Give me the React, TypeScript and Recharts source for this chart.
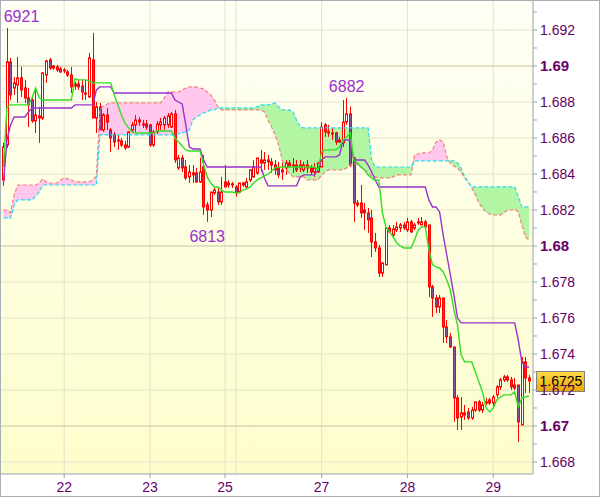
import React from "react";
import {
  ComposedChart,
  XAxis,
  YAxis,
  CartesianGrid,
  Area,
  Bar,
  Line,
  ReferenceLine,
  ReferenceDot,
} from "recharts";

// hourly candles
const openPrice = [
  1.68367, 1.68561, 1.69023, 1.68878, 1.68895, 1.68934, 1.68878, 1.68823, 1.68811, 1.68695,
  1.68711, 1.68711, 1.6895, 1.69034, 1.68989, 1.68995, 1.68984, 1.68973, 1.68967, 1.6895,
  1.68889, 1.689, 1.68889, 1.6885, 1.68828, 1.69034, 1.68711, 1.68773, 1.68645, 1.68728,
  1.68645, 1.68617, 1.68589, 1.68584, 1.68561, 1.6855, 1.68645, 1.68673, 1.68689, 1.68678,
  1.68678, 1.68673, 1.68561, 1.68634, 1.68673, 1.68673, 1.68673, 1.68661, 1.68734, 1.68434,
  1.68489, 1.68439, 1.68384, 1.68406, 1.68406, 1.68356, 1.68439, 1.68228, 1.682, 1.68295,
  1.683, 1.68245, 1.68356, 1.68339, 1.68345, 1.68328, 1.683, 1.68339, 1.68328, 1.68367,
  1.68384, 1.68406, 1.68478, 1.68461, 1.68467, 1.68467, 1.6845, 1.68434, 1.68411, 1.68434,
  1.68461, 1.68445, 1.6845, 1.68434, 1.68423, 1.6845, 1.68434, 1.68411, 1.68411, 1.68439,
  1.68673, 1.68634, 1.68628, 1.68628, 1.68589, 1.68573, 1.68689, 1.68734, 1.68489, 1.68239,
  1.68239, 1.682, 1.68184, 1.68156, 1.68023, 1.67989, 1.6785, 1.67895, 1.681, 1.68061,
  1.68089, 1.681, 1.68117, 1.68089, 1.68134, 1.681, 1.68128, 1.68117, 1.68134, 1.68117,
  1.67773, 1.67711, 1.67661, 1.67711, 1.6755, 1.67495, 1.67439, 1.67156, 1.6705, 1.67061,
  1.67078, 1.67045, 1.67089, 1.67134, 1.67089, 1.67128, 1.67145, 1.67128, 1.67173, 1.67217,
  1.67256, 1.67273, 1.67256, 1.67228, 1.67228, 1.67006, 1.67356, 1.67267,
];

const highPrice = [
  1.68573, 1.69211, 1.69045, 1.68939, 1.6905, 1.68995, 1.68923, 1.68878, 1.68828, 1.68878,
  1.68773, 1.68967, 1.69034, 1.69045, 1.69006, 1.69006, 1.68995, 1.68989, 1.68978, 1.68995,
  1.68911, 1.68923, 1.68923, 1.68923, 1.69073, 1.69184, 1.688, 1.68795, 1.68739, 1.68767,
  1.68656, 1.68634, 1.68617, 1.686, 1.68584, 1.68639, 1.68689, 1.68728, 1.68717, 1.687,
  1.687, 1.68678, 1.68645, 1.68695, 1.68711, 1.68723, 1.68739, 1.68745, 1.68756, 1.68506,
  1.68506, 1.68478, 1.6845, 1.6845, 1.68434, 1.68489, 1.68506, 1.68245, 1.683, 1.68323,
  1.68328, 1.68384, 1.6845, 1.68367, 1.68356, 1.68339, 1.6835, 1.68356, 1.68378, 1.68423,
  1.68478, 1.68489, 1.68534, 1.68523, 1.68506, 1.68489, 1.68478, 1.68467, 1.68461, 1.68478,
  1.68478, 1.68489, 1.68478, 1.68478, 1.68467, 1.68478, 1.6845, 1.68461, 1.68467, 1.68689,
  1.68684, 1.68673, 1.68656, 1.68634, 1.68606, 1.68811, 1.68823, 1.68773, 1.68495, 1.68256,
  1.68339, 1.68239, 1.68211, 1.682, 1.68073, 1.68006, 1.67906, 1.68106, 1.68117, 1.68117,
  1.68134, 1.68128, 1.68134, 1.68156, 1.68145, 1.68128, 1.68156, 1.68161, 1.68145, 1.68117,
  1.67784, 1.67728, 1.67728, 1.67711, 1.67589, 1.67517, 1.67439, 1.67173, 1.67161, 1.67117,
  1.671, 1.67106, 1.67134, 1.67145, 1.67134, 1.67156, 1.67156, 1.67173, 1.67228, 1.67267,
  1.67284, 1.67284, 1.67273, 1.67267, 1.67228, 1.67384, 1.67384, 1.67284,
];

const lowPrice = [
  1.68334, 1.68545, 1.68811, 1.68839, 1.68795, 1.68828, 1.68795, 1.68661, 1.68684, 1.68628,
  1.68573, 1.687, 1.68906, 1.68978, 1.68978, 1.68967, 1.68961, 1.68961, 1.68939, 1.6885,
  1.68867, 1.68867, 1.68811, 1.68811, 1.68823, 1.68711, 1.68628, 1.68645, 1.68634, 1.68645,
  1.68523, 1.6855, 1.68534, 1.6855, 1.68534, 1.68545, 1.68628, 1.68634, 1.68667, 1.68656,
  1.68645, 1.6855, 1.6855, 1.68623, 1.68645, 1.68645, 1.68656, 1.68656, 1.68461, 1.68423,
  1.68411, 1.68367, 1.6835, 1.6835, 1.6835, 1.6835, 1.68173, 1.68134, 1.68161, 1.68284,
  1.68228, 1.68228, 1.68328, 1.68323, 1.68323, 1.68273, 1.68295, 1.68328, 1.68323, 1.68356,
  1.68378, 1.68395, 1.68411, 1.68423, 1.68423, 1.68406, 1.68395, 1.68378, 1.68367, 1.68395,
  1.68434, 1.68406, 1.68411, 1.68411, 1.68411, 1.68406, 1.68395, 1.68384, 1.68406, 1.68439,
  1.68606, 1.68606, 1.68589, 1.68561, 1.68573, 1.6855, 1.68673, 1.68439, 1.68134, 1.68217,
  1.68156, 1.68089, 1.68073, 1.67939, 1.67967, 1.67828, 1.67828, 1.67895, 1.68078, 1.6805,
  1.68078, 1.68078, 1.68089, 1.68078, 1.68073, 1.68089, 1.68117, 1.68117, 1.681, 1.67717,
  1.67606, 1.67628, 1.67628, 1.67461, 1.67461, 1.67434, 1.67023, 1.66978, 1.66978, 1.67034,
  1.67034, 1.67034, 1.67078, 1.67078, 1.67073, 1.67117, 1.67117, 1.67106, 1.67156, 1.672,
  1.67245, 1.67245, 1.672, 1.672, 1.66911, 1.67006, 1.67184, 1.67184,
];

const closePrice = [
  1.6855, 1.69023, 1.68839, 1.68906, 1.68934, 1.68867, 1.68823, 1.68784, 1.68695, 1.68728,
  1.68723, 1.68961, 1.69028, 1.68989, 1.69, 1.68978, 1.68967, 1.68978, 1.6895, 1.68884,
  1.689, 1.68884, 1.68856, 1.68845, 1.69045, 1.68711, 1.68773, 1.68645, 1.68728, 1.68689,
  1.686, 1.68578, 1.68584, 1.68561, 1.68545, 1.68634, 1.68673, 1.687, 1.687, 1.68673,
  1.68661, 1.68561, 1.68634, 1.68678, 1.68689, 1.68711, 1.68723, 1.68734, 1.68478, 1.68489,
  1.68434, 1.68378, 1.68411, 1.68395, 1.68356, 1.68411, 1.68217, 1.682, 1.683, 1.68311,
  1.68245, 1.683, 1.68328, 1.6835, 1.68339, 1.68295, 1.6835, 1.6835, 1.68356, 1.68423,
  1.68439, 1.68489, 1.68461, 1.68478, 1.68478, 1.6845, 1.68423, 1.68395, 1.68423, 1.68461,
  1.68445, 1.6845, 1.68423, 1.6845, 1.6845, 1.68434, 1.68411, 1.68434, 1.68461, 1.68661,
  1.68634, 1.68628, 1.68623, 1.68578, 1.68578, 1.68689, 1.68734, 1.6845, 1.68239, 1.68228,
  1.68184, 1.68184, 1.68145, 1.68023, 1.67989, 1.6785, 1.67906, 1.681, 1.68078, 1.68095,
  1.68106, 1.68117, 1.681, 1.68134, 1.68078, 1.68117, 1.68134, 1.68134, 1.68106, 1.67773,
  1.67711, 1.67661, 1.67711, 1.6755, 1.67495, 1.67439, 1.67156, 1.67045, 1.67073, 1.67073,
  1.67045, 1.67089, 1.67134, 1.67089, 1.67117, 1.67134, 1.67128, 1.67161, 1.67217, 1.67256,
  1.67273, 1.67256, 1.67217, 1.67211, 1.67023, 1.67356, 1.67267, 1.6725,
];

// ichimoku lines
const tenkan = [
  1.68439, 1.68773, 1.68784, 1.68784, 1.68784, 1.68784, 1.68784, 1.68784, 1.68823, 1.68878,
  1.68823, 1.68811, 1.68811, 1.68811, 1.68811, 1.68811, 1.68811, 1.68811, 1.68811, 1.68811,
  1.68928, 1.68923, 1.68923, 1.68923, 1.68917, 1.68906, 1.68906, 1.68906, 1.68906, 1.68906,
  1.68906, 1.68839, 1.68784, 1.68728, 1.68684, 1.68656, 1.68634, 1.68628, 1.68628, 1.68628,
  1.68628, 1.68628, 1.68628, 1.68639, 1.68639, 1.68639, 1.68639, 1.68639, 1.686, 1.68578,
  1.68556, 1.68534, 1.68528, 1.68528, 1.68528, 1.68528, 1.6845, 1.68384, 1.6835, 1.68328,
  1.68328, 1.68311, 1.683, 1.683, 1.683, 1.68295, 1.68295, 1.68311, 1.68317, 1.68328,
  1.6835, 1.68367, 1.68378, 1.68389, 1.684, 1.68417, 1.68434, 1.68439, 1.68439, 1.68439,
  1.68439, 1.68439, 1.68439, 1.68439, 1.68439, 1.68439, 1.68439, 1.68439, 1.68423, 1.68523,
  1.68534, 1.68534, 1.68534, 1.68534, 1.6855, 1.68589, 1.68606, 1.68628, 1.68478, 1.68461,
  1.68439, 1.68423, 1.68395, 1.68378, 1.68367, 1.68367, 1.68184, 1.68106, 1.68078, 1.6805,
  1.68017, 1.68, 1.67989, 1.67989, 1.67989, 1.68034, 1.68089, 1.68106, 1.68106, 1.67978,
  1.67895, 1.67884, 1.67878, 1.67856, 1.67811, 1.67756, 1.67645, 1.67561, 1.67395, 1.67356,
  1.67356, 1.67356, 1.673, 1.67245, 1.67189, 1.671, 1.67078, 1.671, 1.67145, 1.67161,
  1.67173, 1.67173, 1.67173, 1.67189, 1.67106, 1.67156, 1.67161, 1.67167,
];

const kijun = [
  1.6835, 1.68589, 1.68673, 1.68717, 1.68717, 1.68717, 1.68717, 1.68745, 1.68767, 1.68767,
  1.68767, 1.68767, 1.68767, 1.68767, 1.68767, 1.68767, 1.68767, 1.68767, 1.68767, 1.68767,
  1.68784, 1.68784, 1.68784, 1.68784, 1.68784, 1.68784, 1.68867, 1.68884, 1.68884, 1.68884,
  1.68884, 1.6885, 1.6885, 1.6885, 1.6885, 1.6885, 1.6885, 1.6885, 1.6885, 1.6885,
  1.6885, 1.6885, 1.6885, 1.6885, 1.6885, 1.6885, 1.6885, 1.6885, 1.68811, 1.688,
  1.68789, 1.68673, 1.6855, 1.68539, 1.68539, 1.68539, 1.68478, 1.68439, 1.68439, 1.68439,
  1.68439, 1.68439, 1.68439, 1.68439, 1.68439, 1.68439, 1.68439, 1.68439, 1.68439, 1.68439,
  1.68439, 1.68439, 1.68439, 1.68378, 1.68334, 1.68334, 1.68334, 1.68334, 1.68334, 1.68334,
  1.68334, 1.68334, 1.68334, 1.68384, 1.68395, 1.68395, 1.68395, 1.68395, 1.68423, 1.68478,
  1.68495, 1.68495, 1.68495, 1.68495, 1.68506, 1.68589, 1.68589, 1.68589, 1.68478, 1.68478,
  1.68478, 1.68478, 1.6845, 1.68411, 1.68367, 1.68328, 1.68328, 1.68328, 1.68328, 1.68328,
  1.68328, 1.68328, 1.68328, 1.68328, 1.68328, 1.68328, 1.68328, 1.68328, 1.68328, 1.68256,
  1.68217, 1.68217, 1.68189, 1.68061, 1.6795, 1.67839, 1.67728, 1.676, 1.67573, 1.67573,
  1.67573, 1.67573, 1.67573, 1.67573, 1.67573, 1.67573, 1.67573, 1.67573, 1.67573, 1.67573,
  1.67573, 1.67573, 1.67573, 1.67573, 1.67478, 1.67356, 1.67328, 1.67328,
];

const spanA = [
  1.682, 1.682, 1.68184, 1.68284, 1.68339, 1.68339, 1.68339, 1.68339, 1.68339, 1.68339,
  1.6835, 1.68373, 1.68356, 1.6835, 1.6835, 1.6835, 1.68367, 1.68378, 1.68373, 1.68367,
  1.68356, 1.68356, 1.68356, 1.68356, 1.68356, 1.68367, 1.68389, 1.68756, 1.68778, 1.68789,
  1.68795, 1.68795, 1.68795, 1.68795, 1.68795, 1.68795, 1.68795, 1.68795, 1.68795, 1.68795,
  1.68795, 1.68795, 1.68795, 1.68795, 1.68795, 1.68823, 1.68856, 1.68856, 1.68856, 1.68856,
  1.68867, 1.68878, 1.68884, 1.68884, 1.68884, 1.68878, 1.68873, 1.68856, 1.68839, 1.68811,
  1.68773, 1.68756, 1.68756, 1.68756, 1.68756, 1.68756, 1.68756, 1.68756, 1.68756, 1.68756,
  1.68756, 1.68756, 1.68756, 1.68745, 1.687, 1.68661, 1.68617, 1.68561, 1.68478, 1.68423,
  1.68406, 1.68384, 1.68384, 1.68384, 1.68384, 1.68367, 1.68367, 1.68367, 1.68367, 1.68395,
  1.68411, 1.68423, 1.68423, 1.68423, 1.68423, 1.68423, 1.68434, 1.6845, 1.68461, 1.6845,
  1.68439, 1.68423, 1.68411, 1.68389, 1.68384, 1.68378, 1.68378, 1.68378, 1.68378, 1.68384,
  1.68395, 1.68395, 1.68395, 1.68395, 1.68395, 1.68506, 1.68511, 1.68517, 1.68517, 1.68517,
  1.68534, 1.68578, 1.68589, 1.68578, 1.68495, 1.68461, 1.68445, 1.68434, 1.68411, 1.68378,
  1.68356, 1.68323, 1.68284, 1.68239, 1.68211, 1.68189, 1.68178, 1.68173, 1.68173, 1.68173,
  1.68184, 1.682, 1.682, 1.68206, 1.68189, 1.68117, 1.6805, 1.68034,
];

const spanB = [
  1.68156, 1.68156, 1.68156, 1.68228, 1.68256, 1.68256, 1.68256, 1.68256, 1.68256, 1.68278,
  1.683, 1.68339, 1.68339, 1.68339, 1.68339, 1.68339, 1.68339, 1.68339, 1.68339, 1.68339,
  1.68339, 1.68339, 1.68339, 1.68339, 1.68339, 1.68339, 1.68339, 1.68617, 1.68617, 1.68617,
  1.68617, 1.68617, 1.68617, 1.68617, 1.68617, 1.68617, 1.68617, 1.68617, 1.68617, 1.68617,
  1.68617, 1.68617, 1.68617, 1.68617, 1.68617, 1.68617, 1.68617, 1.68617, 1.68617, 1.68623,
  1.68628, 1.68634, 1.68645, 1.687, 1.68717, 1.68728, 1.68739, 1.68745, 1.68756, 1.68756,
  1.68767, 1.68767, 1.68767, 1.68767, 1.68767, 1.68767, 1.68767, 1.68767, 1.68767, 1.68767,
  1.68767, 1.68773, 1.68784, 1.68784, 1.68784, 1.68789, 1.68795, 1.68773, 1.68756, 1.68756,
  1.68756, 1.68745, 1.687, 1.68661, 1.68656, 1.68656, 1.68656, 1.68656, 1.68656, 1.68656,
  1.68656, 1.68656, 1.68656, 1.68656, 1.68656, 1.68656, 1.68656, 1.68656, 1.68656, 1.68656,
  1.68656, 1.68656, 1.68656, 1.68478, 1.68439, 1.68439, 1.68439, 1.68439, 1.68439, 1.68439,
  1.68439, 1.68439, 1.68439, 1.68439, 1.68439, 1.68473, 1.68473, 1.68473, 1.68473, 1.68473,
  1.68473, 1.68473, 1.68473, 1.68473, 1.68473, 1.68473, 1.68473, 1.68461, 1.68434, 1.68384,
  1.68356, 1.68328, 1.68328, 1.68328, 1.68328, 1.68328, 1.68328, 1.68328, 1.68328, 1.68328,
  1.68328, 1.68328, 1.68328, 1.68328, 1.68273, 1.68217, 1.68217, 1.68217,
];

const dayTicks = [17, 41, 62, 89, 113, 137];
const dayLabels = ["22", "23", "25", "27", "28", "29"];
const extraDayLines = [65];

const priceTicks = [
  1.668, 1.669, 1.67, 1.671, 1.672, 1.673, 1.674, 1.675, 1.676, 1.677, 1.678, 1.679, 1.68,
  1.681, 1.682, 1.683, 1.684, 1.685, 1.686, 1.687, 1.688, 1.689, 1.69, 1.691, 1.692, 1.693,
];
const gridPrices = [1.668, 1.67, 1.672, 1.674, 1.676, 1.678, 1.68, 1.682, 1.684, 1.686, 1.688, 1.69, 1.692];
const strongPrices = [1.67, 1.68, 1.69];

const markIndex = [1, 96, 57];
const markText = ["6921", "6882", "6813"];
const markAtHigh = [true, true, false];

const FONT = "'Liberation Sans', Arial, sans-serif";
const AXIS_TEXT = "#660066";
const AXIS_LINE = "#99a3ad";

const rows = openPrice.map((o, i) => {
  const a = spanA[i];
  const b = spanB[i];
  const mid = (a + b) / 2;
  return {
    i,
    o,
    h: highPrice[i],
    l: lowPrice[i],
    c: closePrice[i],
    hl: [lowPrice[i], highPrice[i]],
    tenkan: tenkan[i],
    kijun: kijun[i],
    spanA: a,
    spanB: b,
    pink: a >= b ? [b, a] : [mid, mid],
    green: b > a ? [a, b] : [mid, mid],
  };
});

const Candle = (props: any) => {
  const { x, y, width, height } = props;
  const p = props.payload ?? props;
  if (x == null || y == null) return null;
  const top = Math.min(y, y + height);
  const bot = Math.max(y, y + height);
  const cx = Math.round(x + width / 2) + 0.5;
  const span = p.h - p.l || 1e-9;
  const py = (v: number) => top + ((p.h - v) / span) * (bot - top);
  const yo = py(p.o);
  const yc = py(p.c);
  const bTop = Math.min(yo, yc);
  const bH = Math.max(Math.abs(yo - yc), 1);
  const bull = p.c >= p.o;
  return (
    <g>
      <line x1={cx} x2={cx} y1={top} y2={bot} stroke="#ff0000" strokeWidth={1} />
      <rect
        x={cx - 1}
        y={bTop}
        width={2}
        height={bH}
        fill={bull ? "#ffffff" : "#8a4f9e"}
        stroke="#ff0000"
        strokeWidth={1}
      />
    </g>
  );
};

const PriceTick = (props: any) => {
  const { x, y, payload } = props;
  const m = Math.round(payload.value * 1000);
  if (m % 2 !== 0) return <g />;
  const strong = m % 10 === 0;
  return (
    <text
      x={x - 1}
      y={y}
      dy={strong ? 5.5 : 5}
      fill={AXIS_TEXT}
      fontSize={strong ? 15 : 14}
      fontWeight={strong ? 700 : 400}
      fontFamily={FONT}
    >
      {strong ? (m / 1000).toFixed(2) : (m / 1000).toFixed(3)}
    </text>
  );
};

const PriceTag = (props: any) => {
  const vb = props.viewBox || {};
  const left = vb.x + vb.width + 3.5;
  const cy = vb.y;
  return (
    <g>
      <rect x={left} y={cy - 9.5} width={48} height={20} fill="url(#tagBg)" stroke="#808080" strokeWidth={1} />
      <text x={left + 3} y={cy + 5.5} fill="#000000" fontSize={14} fontFamily={FONT}>
        {closePrice[closePrice.length - 1].toFixed(4)}
      </text>
    </g>
  );
};

export default function App() {
  return (
    <div
      style={{
        position: "absolute",
        left: 0,
        top: 0,
        width: 600,
        height: 497,
        boxSizing: "border-box",
        border: "1px solid #a7afb7",
        background: "#ffffff",
      }}
    >
      <ComposedChart width={598} height={495} data={rows} margin={{ top: 0, right: 0, bottom: 0, left: 0 }}>
        <defs>
          <linearGradient id="plotBg" x1="0" y1="0" x2="0" y2="1">
            <stop offset="0%" stopColor="#fffff6" />
            <stop offset="100%" stopColor="#fdfdcb" />
          </linearGradient>
          <linearGradient id="tagBg" x1="0" y1="0" x2="0" y2="1">
            <stop offset="0%" stopColor="#ffd84a" />
            <stop offset="100%" stopColor="#e9aa00" />
          </linearGradient>
        </defs>
        <CartesianGrid
          fill="url(#plotBg)"
          fillOpacity={1}
          stroke="#e3e3cb"
          horizontalValues={gridPrices}
          verticalValues={[...dayTicks, ...extraDayLines]}
        />
        <CartesianGrid stroke="#d2d2aa" vertical={false} horizontalValues={strongPrices} />
        <XAxis
          dataKey="i"
          type="number"
          domain={[-0.678, 148.12]}
          allowDataOverflow
          ticks={dayTicks}
          interval={0}
          tickFormatter={(v: number) => dayLabels[dayTicks.indexOf(v)] ?? ""}
          height={22}
          stroke={AXIS_LINE}
          tickSize={4}
          tickMargin={4}
          tick={{ fill: AXIS_TEXT, fontSize: 14, fontFamily: FONT }}
        />
        <YAxis
          orientation="right"
          type="number"
          domain={[1.6673333, 1.6936111]}
          allowDataOverflow
          ticks={priceTicks}
          interval={0}
          width={66}
          stroke={AXIS_LINE}
          tickSize={4}
          tickMargin={4}
          tick={<PriceTick />}
        />
        <Area
          dataKey="pink"
          type="linear"
          stroke="none"
          fill="#ffc8ec"
          fillOpacity={1}
          isAnimationActive={false}
        />
        <Area
          dataKey="green"
          type="linear"
          stroke="none"
          fill="#b2f5a2"
          fillOpacity={1}
          isAnimationActive={false}
        />
        <Line
          dataKey="spanA"
          type="linear"
          stroke="#f58080"
          strokeWidth={1.2}
          strokeDasharray="4 2"
          dot={false}
          isAnimationActive={false}
        />
        <Line
          dataKey="spanB"
          type="linear"
          stroke="#22dcf0"
          strokeWidth={1.2}
          strokeDasharray="4 2"
          dot={false}
          isAnimationActive={false}
        />
        <Bar dataKey="hl" barSize={3} shape={<Candle />} isAnimationActive={false} />
        <Line
          dataKey="kijun"
          type="linear"
          stroke="#9933cc"
          strokeWidth={1.4}
          dot={false}
          isAnimationActive={false}
        />
        <Line
          dataKey="tenkan"
          type="linear"
          stroke="#33dd22"
          strokeWidth={1.4}
          dot={false}
          isAnimationActive={false}
        />
        <ReferenceLine
          y={closePrice[closePrice.length - 1]}
          stroke="transparent"
          label={(p: any) => <PriceTag {...p} />}
        />
        {markIndex.map((k, n) => (
          <ReferenceDot
            key={markText[n]}
            x={k}
            y={markAtHigh[n] ? highPrice[k] : lowPrice[k]}
            r={0}
            shape={(p: any) => (
              <text
                x={Math.max(p.cx, 20.5)}
                y={markAtHigh[n] ? p.cy - 6 : p.cy + 20}
                textAnchor="middle"
                fill="#9b30d0"
                fontSize={16}
                fontFamily={FONT}
              >
                {markText[n]}
              </text>
            )}
          />
        ))}
      </ComposedChart>
    </div>
  );
}
